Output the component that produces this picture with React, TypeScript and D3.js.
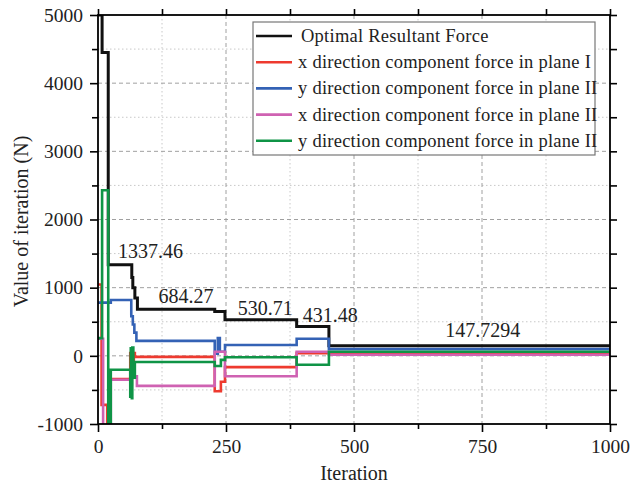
import React, { useEffect, useRef } from "react";
import * as d3 from "d3";

type Pt = [number, number];

const iterTicks = [0, 250, 500, 750, 1000];
const iterMinor = [125, 375, 625, 875];
const valueTicks = [-1000, 0, 1000, 2000, 3000, 4000, 5000];
const valueMinor = [-500, 500, 1500, 2500, 3500, 4500];

const seriesNames = [
  "Optimal Resultant Force",
  "x direction component force in plane I",
  "y direction component force in plane II",
  "x direction component force in plane II",
  "y direction component force in plane II",
];
const seriesColors = ["#111111", "#ee3a2f", "#3462b5", "#cf62b2", "#0f9446"];

// [iteration, value] pairs, drawn as steps
const optimalForce: Pt[] = [
  [0, 5000], [8, 4450], [20, 1337.46], [66, 1150], [68, 1000], [72, 850],
  [77, 684.27], [228, 650], [248, 530.71], [388, 431.48], [451, 147.7294], [1000, 147.7294],
];
const xPlaneI: Pt[] = [
  [0, 1046], [7, -720], [18, -1100], [24, -340], [63, 40], [64, -420], [66, 60],
  [68, -300], [70, 40], [72, -15], [228, -520], [240, -380], [248, -165],
  [388, 40], [1000, 40],
];
const yPlaneII: Pt[] = [
  [0, 780], [25, 820], [63, 820], [65, 580], [68, 460], [71, 340], [75, 220],
  [228, 30], [234, 260], [238, 60], [248, 160], [388, 250], [451, 98], [1000, 98],
];
const xPlaneII: Pt[] = [
  [0, 250], [10, -1100], [25, -350], [63, -330], [66, -300], [76, -440],
  [228, 60], [248, -300], [388, 60], [451, 15], [1000, 15],
];
const yPlaneIIb: Pt[] = [
  [0, 260], [8, 2430], [20, -1100], [25, -205], [63, -600], [64, 110], [66, -620],
  [67, 120], [69, -320], [72, -90], [228, -150], [240, -60], [248, -20],
  [388, -130], [451, 59], [1000, 59],
];
const allSeries = [optimalForce, xPlaneI, yPlaneII, xPlaneII, yPlaneIIb];

const annotations = [
  { text: "1337.46", iter: 39, value: 1435 },
  { text: "684.27", iter: 118, value: 776 },
  { text: "530.71", iter: 273, value: 600 },
  { text: "431.48", iter: 400, value: 498 },
  { text: "147.7294", iter: 678, value: 278 },
];

const W = 638;
const H = 489;
const margin = { top: 15, right: 28, bottom: 65, left: 98 };
const FONT = "'Liberation Serif', 'DejaVu Serif', serif";

const App = () => {
  const ref = useRef<SVGSVGElement>(null);

  useEffect(() => {
    const width = W - margin.left - margin.right;
    const height = H - margin.top - margin.bottom;
    const svg = d3.select(ref.current);
    svg.selectAll("*").remove();

    const x = d3.scaleLinear().domain([0, 1000]).range([0, width]);
    const y = d3.scaleLinear().domain([-1000, 5000]).range([height, 0]);

    svg
      .append("defs")
      .append("clipPath")
      .attr("id", "plotclip")
      .append("rect")
      .attr("width", width)
      .attr("height", height);

    const g = svg
      .append("g")
      .attr("transform", `translate(${margin.left},${margin.top})`);

    // grid
    const grid = g.append("g");
    iterMinor.forEach((v) =>
      grid.append("line").attr("x1", x(v)).attr("x2", x(v)).attr("y1", 0).attr("y2", height)
        .attr("stroke", "#c8c8c8").attr("stroke-dasharray", "1.5,2.5")
    );
    valueMinor.forEach((v) =>
      grid.append("line").attr("x1", 0).attr("x2", width).attr("y1", y(v)).attr("y2", y(v))
        .attr("stroke", "#c8c8c8").attr("stroke-dasharray", "1.5,2.5")
    );
    iterTicks.slice(1, -1).forEach((v) =>
      grid.append("line").attr("x1", x(v)).attr("x2", x(v)).attr("y1", 0).attr("y2", height)
        .attr("stroke", "#a0a0a0").attr("stroke-dasharray", "4,3")
    );
    valueTicks.slice(1, -1).forEach((v) =>
      grid.append("line").attr("x1", 0).attr("x2", width).attr("y1", y(v)).attr("y2", y(v))
        .attr("stroke", "#a0a0a0").attr("stroke-dasharray", "4,3")
    );

    // lines
    const line = d3
      .line<Pt>()
      .x((d) => x(d[0]))
      .y((d) => y(d[1]))
      .curve(d3.curveStepAfter);
    const lines = g.append("g").attr("clip-path", "url(#plotclip)");
    allSeries.forEach((s, i) => {
      lines
        .append("path")
        .datum(s)
        .attr("d", line)
        .attr("fill", "none")
        .attr("stroke", seriesColors[i])
        .attr("stroke-width", i === 0 ? 3 : 2.6)
        .attr("stroke-linejoin", "miter");
    });

    // annotations
    annotations.forEach((a) => {
      g.append("text")
        .attr("x", x(a.iter))
        .attr("y", y(a.value))
        .attr("font-family", FONT)
        .attr("font-size", 20)
        .attr("fill", "#222")
        .text(a.text);
    });

    // axes
    const styleAxis = (sel: any, labels: boolean) => {
      sel.select(".domain").remove();
      sel.selectAll(".tick line").attr("stroke", "#000").attr("stroke-width", 1.6);
      if (labels) {
        sel.selectAll(".tick text")
          .attr("font-family", FONT)
          .attr("font-size", 19.5)
          .attr("fill", "#222");
      }
    };
    const plain = (d: any) => String(d);
    g.append("g").attr("transform", `translate(0,${height})`)
      .call(d3.axisBottom(x).tickValues(iterTicks).tickSize(8).tickPadding(7).tickFormat(plain))
      .call((s) => styleAxis(s, true));
    g.append("g").attr("transform", `translate(0,${height})`)
      .call(d3.axisBottom(x).tickValues(iterMinor).tickSize(5).tickFormat(() => ""))
      .call((s) => styleAxis(s, false));
    g.append("g")
      .call(d3.axisLeft(y).tickValues(valueTicks).tickSize(8).tickPadding(7).tickFormat(plain))
      .call((s) => styleAxis(s, true));
    g.append("g")
      .call(d3.axisLeft(y).tickValues(valueMinor).tickSize(6).tickFormat(() => ""))
      .call((s) => styleAxis(s, false));
    g.append("g")
      .call(d3.axisTop(x).tickValues(iterTicks.concat(iterMinor)).tickSize(6).tickFormat(() => ""))
      .call((s) => styleAxis(s, false));
    g.append("g").attr("transform", `translate(${width},0)`)
      .call(d3.axisRight(y).tickValues(valueTicks.concat(valueMinor)).tickSize(7).tickFormat(() => ""))
      .call((s) => styleAxis(s, false));

    g.append("rect")
      .attr("width", width)
      .attr("height", height)
      .attr("fill", "none")
      .attr("stroke", "#000")
      .attr("stroke-width", 1.8);

    // axis titles
    g.append("text")
      .attr("x", width / 2)
      .attr("y", height + 56)
      .attr("text-anchor", "middle")
      .attr("font-family", FONT)
      .attr("font-size", 20)
      .attr("fill", "#222")
      .text("Iteration");
    g.append("text")
      .attr("transform", "rotate(-90)")
      .attr("x", -height / 2 - 2)
      .attr("y", -margin.left + 28)
      .attr("text-anchor", "middle")
      .attr("font-family", FONT)
      .attr("font-size", 20)
      .attr("fill", "#222")
      .text("Value of iteration (N)");

    // legend
    const lg = svg.append("g").attr("transform", "translate(253,22)");
    lg.append("rect")
      .attr("width", 342)
      .attr("height", 133)
      .attr("fill", "#fff")
      .attr("stroke", "#777")
      .attr("stroke-width", 1.2);
    seriesNames.forEach((name, i) => {
      const cy = 14 + i * 26.2;
      lg.append("line")
        .attr("x1", 3).attr("x2", 39).attr("y1", cy).attr("y2", cy)
        .attr("stroke", seriesColors[i]).attr("stroke-width", 2.6);
      lg.append("text")
        .attr("x", i === 0 ? 48 : 45)
        .attr("y", cy + 6)
        .attr("font-family", FONT)
        .attr("font-size", 18.5)
        .attr("letter-spacing", 0.25)
        .attr("fill", "#222")
        .text(name);
    });
  }, []);

  return (
    <svg
      ref={ref}
      width={W}
      height={H}
      style={{ position: "absolute", left: 0, top: 0, background: "#fff" }}
    />
  );
};

export default App;
